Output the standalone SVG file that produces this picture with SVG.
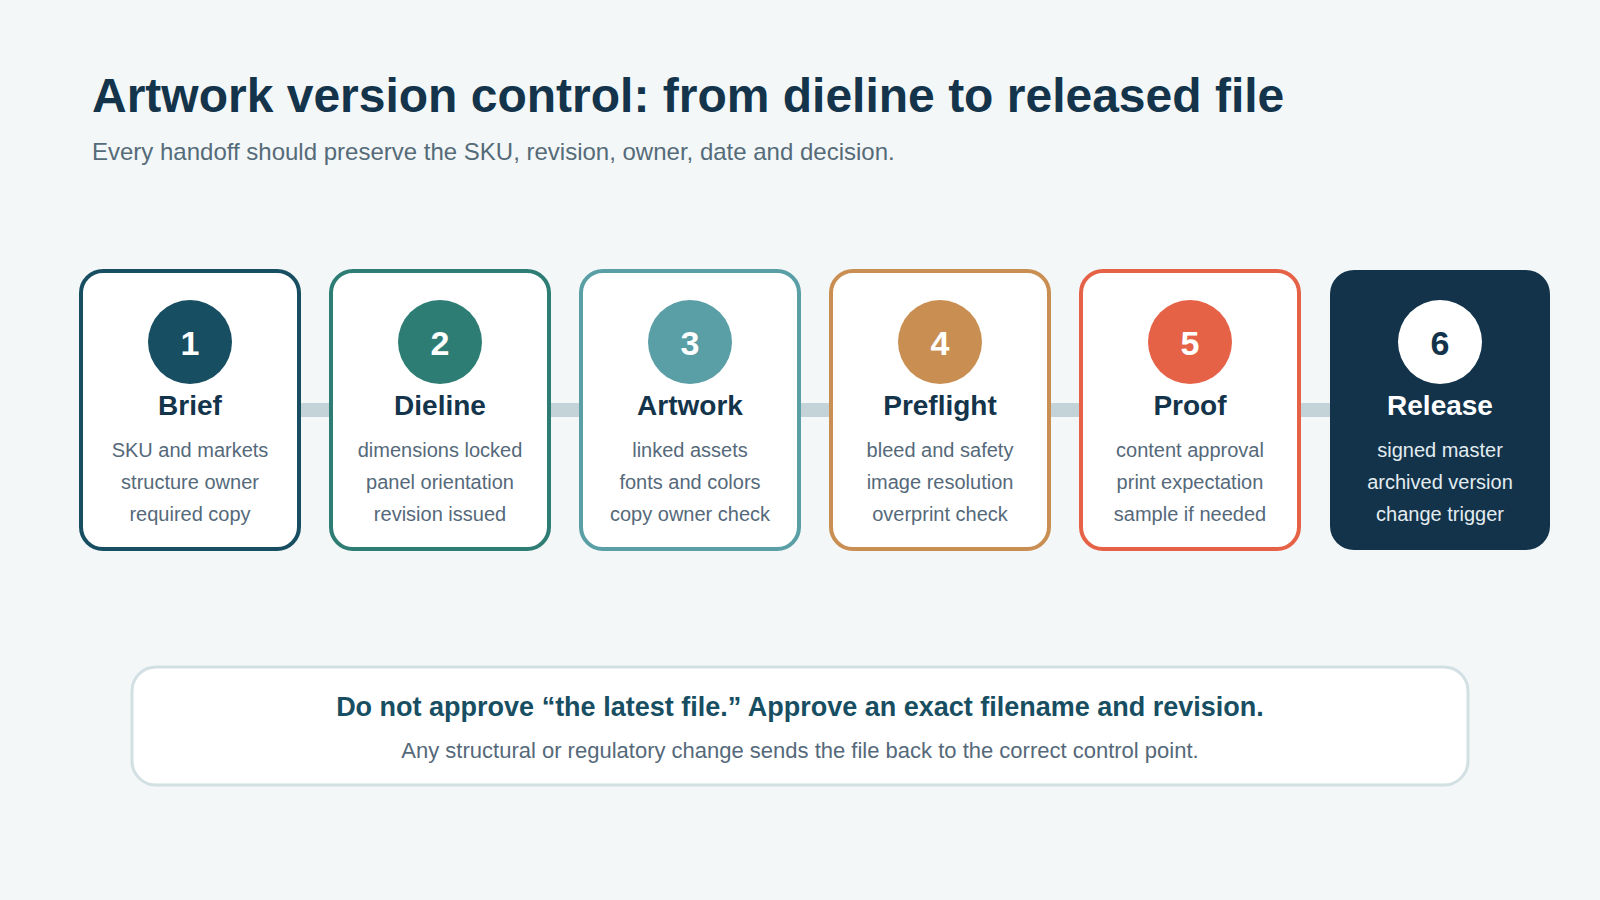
<svg xmlns="http://www.w3.org/2000/svg" width="1600" height="900" viewBox="0 0 1600 900">
<style>
.bg{fill:#f3f7f8}
.title{font-family:"Liberation Sans",Arial,sans-serif;font-weight:700;font-size:48px;fill:#13344a}
.sub{font-family:"Liberation Sans",Arial,sans-serif;font-size:24px;fill:#556b78}
.card{fill:#ffffff;stroke-width:4}
.num{font-family:"Liberation Sans",Arial,sans-serif;font-weight:700;font-size:34px;fill:#ffffff;text-anchor:middle}
.name{font-family:"Liberation Sans",Arial,sans-serif;font-weight:700;font-size:28px;fill:#13344a;text-anchor:middle}
.desc{font-family:"Liberation Sans",Arial,sans-serif;font-size:20px;fill:#55697a;text-anchor:middle}
.bar{fill:#c3d3d8}
.note{fill:#ffffff;stroke:#d2dfe3;stroke-width:3}
.noteh{font-family:"Liberation Sans",Arial,sans-serif;font-weight:700;font-size:27px;fill:#174e62;text-anchor:middle}
.notet{font-family:"Liberation Sans",Arial,sans-serif;font-size:22px;fill:#55697a;text-anchor:middle}
</style>
<rect class="bg" x="0" y="0" width="1600" height="900"/>
<g id="header">
<text class="title" x="92" y="112">Artwork version control: from dieline to released file</text>
<text class="sub" x="92" y="160">Every handoff should preserve the SKU, revision, owner, date and decision.</text>
</g>
<g id="connectors">
<rect class="bar" x="300" y="403" width="32" height="14"/>
<rect class="bar" x="550" y="403" width="32" height="14"/>
<rect class="bar" x="800" y="403" width="32" height="14"/>
<rect class="bar" x="1050" y="403" width="32" height="14"/>
<rect class="bar" x="1300" y="403" width="32" height="14"/>
</g>
<g id="step1">
<rect class="card" x="81" y="271" width="218" height="278" rx="22" stroke="#174e62"/>
<circle cx="190" cy="342" r="42" fill="#174e62"/>
<text class="num" x="190" y="355">1</text>
<text class="name" x="190" y="415">Brief</text>
<text class="desc" x="190" y="457">SKU and markets</text>
<text class="desc" x="190" y="489">structure owner</text>
<text class="desc" x="190" y="521">required copy</text>
</g>
<g id="step2">
<rect class="card" x="331" y="271" width="218" height="278" rx="22" stroke="#2e7d74"/>
<circle cx="440" cy="342" r="42" fill="#2e7d74"/>
<text class="num" x="440" y="355">2</text>
<text class="name" x="440" y="415">Dieline</text>
<text class="desc" x="440" y="457">dimensions locked</text>
<text class="desc" x="440" y="489">panel orientation</text>
<text class="desc" x="440" y="521">revision issued</text>
</g>
<g id="step3">
<rect class="card" x="581" y="271" width="218" height="278" rx="22" stroke="#5a9ea6"/>
<circle cx="690" cy="342" r="42" fill="#5a9ea6"/>
<text class="num" x="690" y="355">3</text>
<text class="name" x="690" y="415">Artwork</text>
<text class="desc" x="690" y="457">linked assets</text>
<text class="desc" x="690" y="489">fonts and colors</text>
<text class="desc" x="690" y="521">copy owner check</text>
</g>
<g id="step4">
<rect class="card" x="831" y="271" width="218" height="278" rx="22" stroke="#c98f52"/>
<circle cx="940" cy="342" r="42" fill="#c98f52"/>
<text class="num" x="940" y="355">4</text>
<text class="name" x="940" y="415">Preflight</text>
<text class="desc" x="940" y="457">bleed and safety</text>
<text class="desc" x="940" y="489">image resolution</text>
<text class="desc" x="940" y="521">overprint check</text>
</g>
<g id="step5">
<rect class="card" x="1081" y="271" width="218" height="278" rx="22" stroke="#e66247"/>
<circle cx="1190" cy="342" r="42" fill="#e66247"/>
<text class="num" x="1190" y="355">5</text>
<text class="name" x="1190" y="415">Proof</text>
<text class="desc" x="1190" y="457">content approval</text>
<text class="desc" x="1190" y="489">print expectation</text>
<text class="desc" x="1190" y="521">sample if needed</text>
</g>
<g id="step6">
<rect x="1330" y="270" width="220" height="280" rx="24" fill="#12334a"/>
<circle cx="1440" cy="342" r="42" fill="#ffffff"/>
<text class="num" x="1440" y="355" style="fill:#12334a">6</text>
<text class="name" x="1440" y="415" style="fill:#ffffff">Release</text>
<text class="desc" x="1440" y="457" style="fill:#e3ecf0">signed master</text>
<text class="desc" x="1440" y="489" style="fill:#e3ecf0">archived version</text>
<text class="desc" x="1440" y="521" style="fill:#e3ecf0">change trigger</text>
</g>
<g id="note">
<rect class="note" x="132" y="667" width="1336" height="118" rx="24"/>
<text class="noteh" x="800" y="716">Do not approve “the latest file.” Approve an exact filename and revision.</text>
<text class="notet" x="800" y="758">Any structural or regulatory change sends the file back to the correct control point.</text>
</g>
</svg>
